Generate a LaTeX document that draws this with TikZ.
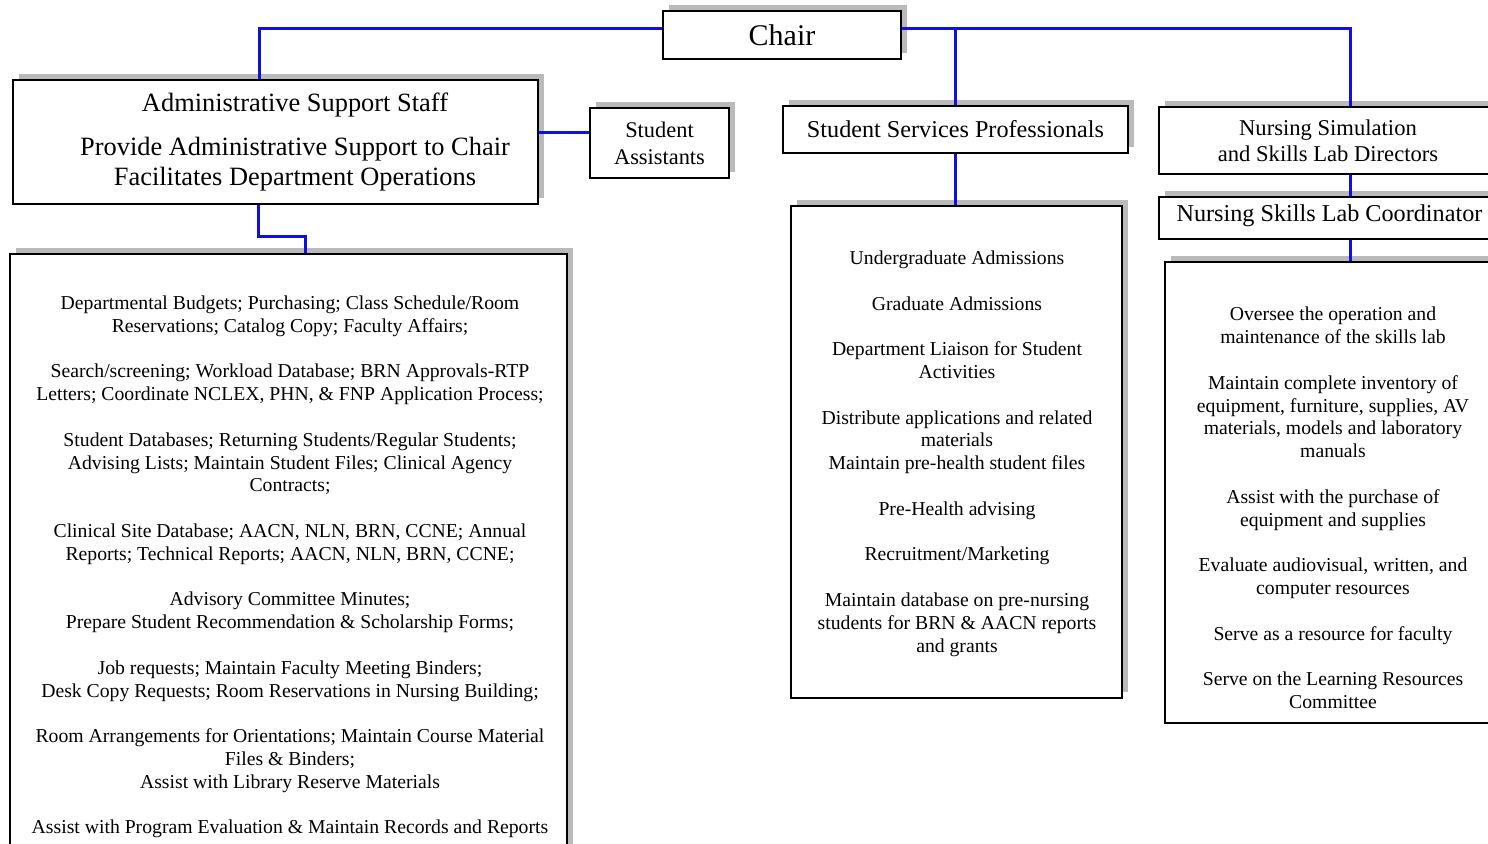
\documentclass[tikz,border=0pt]{standalone}
\usepackage{fontspec}
\setmainfont{Liberation Serif}
\usetikzlibrary{shadows}
\definecolor{linkblue}{RGB}{15,15,230}
\tikzstyle{box} = [draw=black, line width=1.2pt, fill=white, inner sep=0pt, align=center, drop shadow={shadow xshift=3pt, shadow yshift=3pt, fill=black!27, opacity=1}]
\tikzstyle{head} = [align=center, inner sep=0pt]
\tikzstyle{list} = [align=center, inner sep=0pt, font=\fontsize{9.85}{11.4}\selectfont]
\tikzstyle{link} = [draw=linkblue, line width=1.5pt]

\begin{document}
\begin{tikzpicture}[x=0.5pt, y=-0.5pt]
\clip (0,0) rectangle (1488,843);

% top of the chart
\node (chair) [box, minimum width=119pt, minimum height=24pt, font=\fontsize{15}{18}\selectfont] at (782,35) {\raisebox{-1.5pt}{Chair}};

\node (admin) [box, minimum width=262.5pt, minimum height=62pt] at (275.5,142) {};
\node (admintext) [head, font=\fontsize{13.2}{15}\selectfont] at (295,142) {Administrative Support Staff\\[7pt]Provide Administrative Support to Chair\\Facilitates Department Operations};
\node (assist) [box, minimum width=69.5pt, minimum height=35pt, font=\fontsize{11.2}{13.5}\selectfont] at (659.5,143) {Student\\Assistants};

\node (ssp) [box, minimum width=172.5pt, minimum height=23.5pt, font=\fontsize{12.1}{14}\selectfont] at (955.5,129.5) {Student Services Professionals};
\node (nsim) [box, minimum width=169pt, minimum height=33.5pt, font=\fontsize{11.3}{13}\selectfont] at (1328,140.5) {Nursing Simulation\\and Skills Lab Directors};
\node (coord) [box, minimum width=170.5pt, minimum height=21pt, font=\fontsize{12.1}{14}\selectfont] at (1329.5,218) {\raisebox{5pt}{Nursing Skills Lab Coordinator}};

% duty lists
\node (adminlist) [box, minimum width=278.5pt, minimum height=308pt] at (288.5,562) {};
\node (adminduties) [list] at (290,567) {Departmental Budgets; Purchasing; Class Schedule/Room\\Reservations; Catalog Copy; Faculty Affairs;\\[11.4pt]
Search/screening; Workload Database; BRN Approvals-RTP\\Letters; Coordinate NCLEX, PHN, \& FNP Application Process;\\[11.4pt]
Student Databases; Returning Students/Regular Students;\\Advising Lists; Maintain Student Files; Clinical Agency\\Contracts;\\[11.4pt]
Clinical Site Database; AACN, NLN, BRN, CCNE; Annual\\Reports; Technical Reports; AACN, NLN, BRN, CCNE;\\[11.4pt]
Advisory Committee Minutes;\\Prepare Student Recommendation \& Scholarship Forms;\\[11.4pt]
Job requests; Maintain Faculty Meeting Binders;\\Desk Copy Requests; Room Reservations in Nursing Building;\\[11.4pt]
Room Arrangements for Orientations; Maintain Course Material\\Files \& Binders;\\Assist with Library Reserve Materials\\[11.4pt]
Assist with Program Evaluation \& Maintain Records and Reports};

\node (ssplist) [box, minimum width=165.5pt, minimum height=246pt] at (956.5,452) {};
\node (sspduties) [list] at (957,453.5) {Undergraduate Admissions\\[11.4pt]
Graduate Admissions\\[11.4pt]
Department Liaison for Student\\Activities\\[11.4pt]
Distribute applications and related\\materials\\Maintain pre-health student files\\[11.4pt]
Pre-Health advising\\[11.4pt]
Recruitment/Marketing\\[11.4pt]
Maintain database on pre-nursing\\students for BRN \& AACN reports\\and grants};

\node (labbox) [box, minimum width=167.5pt, minimum height=230.5pt] at (1332.5,492.5) {};
\node (labduties) [list] at (1333,508) {Oversee the operation and\\maintenance of the skills lab\\[11.4pt]
Maintain complete inventory of\\equipment, furniture, supplies, AV\\materials, models and laboratory\\manuals\\[11.4pt]
Assist with the purchase of\\equipment and supplies\\[11.4pt]
Evaluate audiovisual, written, and\\computer resources\\[11.4pt]
Serve as a resource for faculty\\[11.4pt]
Serve on the Learning Resources\\Committee};

% connectors
\coordinate (branch) at ([yshift=3.5pt]chair.east);
\draw [link] ([yshift=3.5pt]chair.west) -| ([xshift=-8.25pt]admin.north);
\draw [link] (branch) -| ([xshift=11pt]nsim.north);
\draw [link] (ssp.north) -- (ssp.north |- branch);
\draw [link] ([yshift=5pt]admin.east) -- ([yshift=5pt]admin.east -| assist.west);
\draw [link] ([xshift=-8.75pt]admin.south) -- ++(0,31) -| ([xshift=8.25pt]adminlist.north);
\draw [link] (ssp.south) -- (ssp.south |- ssplist.north);
\draw [link] ([xshift=11pt]nsim.south) -- ([xshift=11pt]nsim.south |- coord.north);
\draw [link] ([xshift=10.25pt]coord.south) -- ([xshift=10.25pt]coord.south |- labbox.north);

\end{tikzpicture}
\end{document}
